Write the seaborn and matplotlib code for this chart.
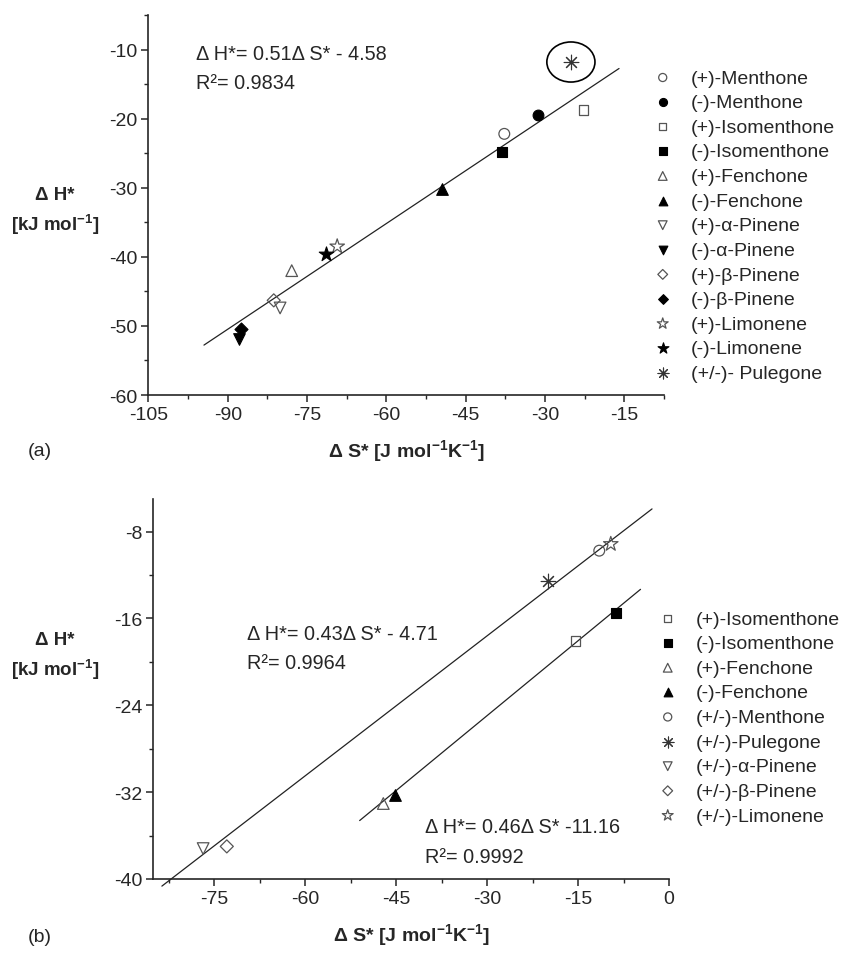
# Compensación entalpía-entropía: dos paneles (a) y (b)
import matplotlib
matplotlib.use("Agg")
import matplotlib.pyplot as plt
from matplotlib.patches import Ellipse
from matplotlib.ticker import MultipleLocator
import seaborn as sns
import numpy as np

#-------------------------------------------------------------------
# Datos del panel (a)
compuestos_a = ['(+)-Menthone', '(-)-Menthone', '(+)-Isomenthone', '(-)-Isomenthone',
                '(+)-Fenchone', '(-)-Fenchone', '(+)-α-Pinene', '(-)-α-Pinene',
                '(+)-β-Pinene', '(-)-β-Pinene', '(+)-Limonene', '(-)-Limonene',
                '(+/-)- Pulegone']
ds_a = [-37.7, -31.4, -22.7, -38.1, -77.9, -49.5, -80.1, -87.9, -81.3, -87.4, -69.3, -71.4, -25.1]
dh_a = [-22.2, -19.5, -18.75, -24.85, -42.0, -30.2, -47.4, -51.85, -46.3, -50.4, -38.5, -39.65, -11.8]
pendiente_a, ordenada_a = 0.51, -4.58
rango_a = [-94.5, -16.0]
texto_a = ['Δ H*= 0.51Δ S* - 4.58', 'R²= 0.9834']

# Datos del panel (b)
compuestos_b = ['(+)-Isomenthone', '(-)-Isomenthone', '(+)-Fenchone', '(-)-Fenchone',
                '(+/-)-Menthone', '(+/-)-Pulegone', '(+/-)-α-Pinene', '(+/-)-β-Pinene',
                '(+/-)-Limonene']
ds_b = [-15.4, -8.7, -47.1, -45.2, -11.5, -19.9, -76.8, -72.9, -9.6]
dh_b = [-18.06, -15.5, -33.05, -32.27, -9.76, -12.56, -37.2, -37.0, -9.15]
pendiente_b1, ordenada_b1 = 0.43, -4.71
rango_b1 = [-83.6, -2.8]
pendiente_b2, ordenada_b2 = 0.46, -11.16
rango_b2 = [-51.0, -4.7]
texto_b1 = ['Δ H*= 0.43Δ S* - 4.71', 'R²= 0.9964']
texto_b2 = ['Δ H*= 0.46Δ S* -11.16', 'R²= 0.9992']

# Estilo de los marcadores (forma, relleno)
asterisco = (8, 2, 0)
marcas_a = ['o', 'o', 's', 's', '^', '^', 'v', 'v', 'D', 'D', '*', '*', asterisco]
relleno_a = [False, True, False, True, False, True, False, True, False, True, False, True, None]
marcas_b = ['s', 's', '^', '^', 'o', asterisco, 'v', 'D', '*']
relleno_b = [False, True, False, True, False, None, False, False, False]
tamano = {'o': 60, 's': 48, '^': 70, 'v': 70, 'D': 44, '*': 120, asterisco: 110}

#-------------------------------------------------------------------
sns.set_style("ticks")
plt.rcParams['font.family'] = ['Liberation Sans', 'DejaVu Sans']
plt.rcParams['axes.unicode_minus'] = False
plt.rcParams['mathtext.fontset'] = 'custom'
plt.rcParams['mathtext.rm'] = 'Liberation Sans'
plt.rcParams['mathtext.bf'] = 'Liberation Sans:bold'
plt.rcParams['mathtext.default'] = 'bf'

fig = plt.figure(figsize=(8.41, 9.54), dpi=100)
ax_a = fig.add_axes([0.1765, 0.5849, 0.613, 0.3983])
ax_b = fig.add_axes([0.1824, 0.0776, 0.6131, 0.3983])


def dibujar_puntos(ax, nombres, xs, ys, marcas, rellenos):
    for n, x, y, m, r in zip(nombres, xs, ys, marcas, rellenos):
        s = tamano[m]
        if r is None:      # asterisco (solo líneas, el color va en la cara)
            sns.scatterplot(x=[x], y=[y], ax=ax, marker=m, s=s, color='#333333',
                            linewidth=0.8, label=n, zorder=3)
        elif r:
            sns.scatterplot(x=[x], y=[y], ax=ax, marker=m, s=s, color='black',
                            edgecolor='black', linewidth=0.8, label=n, zorder=3)
        else:
            sns.scatterplot(x=[x], y=[y], ax=ax, marker=m, s=s, facecolor='none',
                            edgecolor='#555555', linewidth=0.9, label=n, zorder=3)


def recta(ax, rango, m, b):
    xs = np.array(rango)
    l = ax.plot(xs, m * xs + b, color='#222222', lw=0.9, zorder=2)
    l[0].set_clip_on(False)


def ejes(ax, xlim, ylim, xmaj, ymaj):
    ax.set_xlim(*xlim)
    ax.set_ylim(*ylim)
    ax.xaxis.set_major_locator(MultipleLocator(xmaj))
    ax.xaxis.set_minor_locator(MultipleLocator(xmaj / 2))
    ax.yaxis.set_major_locator(MultipleLocator(ymaj))
    ax.yaxis.set_minor_locator(MultipleLocator(ymaj / 2))
    for lado in ['top', 'right']:
        ax.spines[lado].set_visible(False)
    for lado in ['left', 'bottom']:
        ax.spines[lado].set_linewidth(1.2)
    ax.tick_params(which='major', direction='out', length=5, width=1.1, labelsize=14, pad=3)
    ax.tick_params(which='minor', direction='out', length=3, width=1.0)
    ax.grid(False)


# Panel (a)
recta(ax_a, rango_a, pendiente_a, ordenada_a)
dibujar_puntos(ax_a, compuestos_a, ds_a, dh_a, marcas_a, relleno_a)
ax_a.add_patch(Ellipse((ds_a[-1], dh_a[-1]), 9.1, 5.8, fill=False, edgecolor='black', lw=1.2))
ejes(ax_a, (-105, -7.5), (-60, -5), 15, 10)
ax_a.text(-96.0, -10.6, texto_a[0], fontsize=14.3, va='center', ha='left')
ax_a.text(-96.0, -14.8, texto_a[1], fontsize=14.3, va='center', ha='left')

# Panel (b)
recta(ax_b, rango_b1, pendiente_b1, ordenada_b1)
recta(ax_b, rango_b2, pendiente_b2, ordenada_b2)
dibujar_puntos(ax_b, compuestos_b, ds_b, dh_b, marcas_b, relleno_b)
ejes(ax_b, (-85, 0), (-40, -5), 15, 8)
ax_b.text(-69.6, -17.4, texto_b1[0], fontsize=14.3, va='center', ha='left')
ax_b.text(-69.6, -20.1, texto_b1[1], fontsize=14.3, va='center', ha='left')
ax_b.text(-40.2, -35.2, texto_b2[0], fontsize=14.3, va='center', ha='left')
ax_b.text(-40.2, -37.9, texto_b2[1], fontsize=14.3, va='center', ha='left')

# Títulos de los ejes
etiqueta_x = r'Δ S* [J mol$^{-1}$K$^{-1}$]'
etiqueta_y = 'Δ H*\n[kJ mol$^{-1}$]'
for ax, cx, cy, xy in [(ax_a, -0.181, 0.484, -0.145), (ax_b, -0.191, 0.587, -0.145)]:
    ax.set_xlabel(etiqueta_x, fontsize=14, fontweight='bold')
    ax.xaxis.set_label_coords(0.5, xy)
    ax.xaxis.label.set_va('center')
    ax.set_ylabel(etiqueta_y, fontsize=13.5, fontweight='bold', rotation=0,
                  ha='center', va='center', linespacing=1.45)
    ax.yaxis.set_label_coords(cx, cy)

# Leyendas
for ax, x0, y0 in [(ax_a, 653, 70), (ax_b, 658, 611)]:
    ax.legend(loc='upper left', bbox_to_anchor=(x0 / 841, 1 - y0 / 954),
              bbox_transform=fig.transFigure, frameon=False, fontsize=14,
              handlelength=1.0, handletextpad=0.95, labelspacing=0.36,
              borderpad=0, borderaxespad=0, markerscale=0.75, scatterpoints=1)

fig.text(40 / 841, 1 - 452 / 954, '(a)', fontsize=14, ha='center', va='center')
fig.text(40 / 841, 1 - 938 / 954, '(b)', fontsize=14, ha='center', va='center')

fig.savefig('out.png', dpi=100)
